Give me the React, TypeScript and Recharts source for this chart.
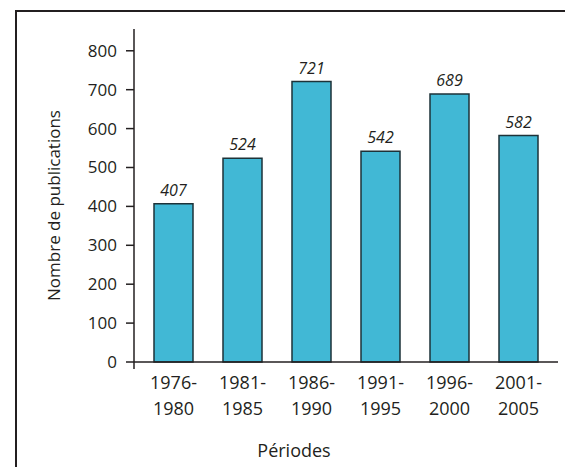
import { Bar, BarChart, LabelList, XAxis, YAxis } from "recharts";

const periods = ["1976-1980", "1981-1985", "1986-1990", "1991-1995", "1996-2000", "2001-2005"];
const publications = [407, 524, 721, 542, 689, 582];
const yTicks = [0, 100, 200, 300, 400, 500, 600, 700, 800];

const data = periods.map((period, i) => ({ period, count: publications[i] }));

const FONT = "'Open Sans', sans-serif";
const INK = "#231f20";

function PeriodTick({ x, y, payload }: { x?: number; y?: number; payload?: { value: string } }) {
  const [start, end] = (payload?.value ?? "").split("-");
  return (
    <text x={x} y={y} textAnchor="middle" fontFamily={FONT} fontSize={18} fill={INK}>
      <tspan x={x} dy={19}>{start}-</tspan>
      <tspan x={x} dy={26}>{end}</tspan>
    </text>
  );
}

function CountTick({ x, y, payload }: { x?: number; y?: number; payload?: { value: number } }) {
  const value = payload?.value ?? 0;
  // the axis sits tickSize + tickMargin to the right of the label anchor
  const axisX = (x ?? 0) + 17;
  return (
    <g>
      <text x={x} y={y} dy={6} textAnchor="end" fontFamily={FONT} fontSize={17} fill={INK}>
        {value}
      </text>
      {value === 0 && <line x1={axisX} y1={y} x2={axisX} y2={(y ?? 0) + 7} stroke={INK} strokeWidth={1.5} />}
    </g>
  );
}

function PeriodTitle({ viewBox }: { viewBox?: { x: number; y: number; width: number; height: number } }) {
  if (!viewBox) return null;
  return (
    <text x={viewBox.x + 160} y={viewBox.y + 95} textAnchor="middle" fontFamily={FONT} fontSize={18} fill={INK}>
      Périodes
    </text>
  );
}

function CountTitle({ viewBox }: { viewBox?: { x: number; y: number; width: number; height: number } }) {
  if (!viewBox) return null;
  const cx = viewBox.x - 21;
  const cy = viewBox.y + viewBox.height / 2 + 10;
  return (
    <text
      x={cx}
      y={cy}
      transform={`rotate(-90 ${cx} ${cy})`}
      textAnchor="middle"
      dominantBaseline="central"
      fontFamily={FONT}
      fontSize={17}
      fill={INK}
    >
      Nombre de publications
    </text>
  );
}

export default function App() {
  return (
    <div style={{ position: "absolute", left: 0, top: 0, width: 565, height: 467, background: "#fff" }}>
      <div
        style={{
          position: "absolute",
          left: 15,
          top: 10,
          right: 0,
          bottom: 0,
          borderTop: `2px solid ${INK}`,
          borderLeft: `2px solid ${INK}`,
        }}
      />
      <div style={{ position: "absolute", left: 0, top: 0 }}>
        <BarChart
          width={565}
          height={467}
          data={data}
          margin={{ top: 29, right: 7, bottom: 75, left: 74 }}
          barCategoryGap={0}
        >
          <XAxis
            dataKey="period"
            tickLine={false}
            axisLine={{ stroke: INK, strokeWidth: 1.5 }}
            padding={{ left: 5, right: 5 }}
            interval={0}
            tick={<PeriodTick />}
            label={<PeriodTitle />}
          />
          <YAxis
            width={60}
            domain={[0, 856]}
            ticks={yTicks}
            interval={0}
            tickSize={8}
            tickMargin={9}
            tickLine={{ stroke: INK, strokeWidth: 1.5 }}
            axisLine={{ stroke: INK, strokeWidth: 1.5 }}
            tick={<CountTick />}
            label={<CountTitle />}
          />
          <Bar
            dataKey="count"
            barSize={39}
            fill="#41b8d5"
            stroke="#1d3238"
            strokeWidth={1.5}
            isAnimationActive={false}
          >
            <LabelList
              dataKey="count"
              position="top"
              offset={8}
              fontFamily={FONT}
              fontSize={16}
              fontStyle="italic"
              fill={INK}
            />
          </Bar>
        </BarChart>
      </div>
    </div>
  );
}
